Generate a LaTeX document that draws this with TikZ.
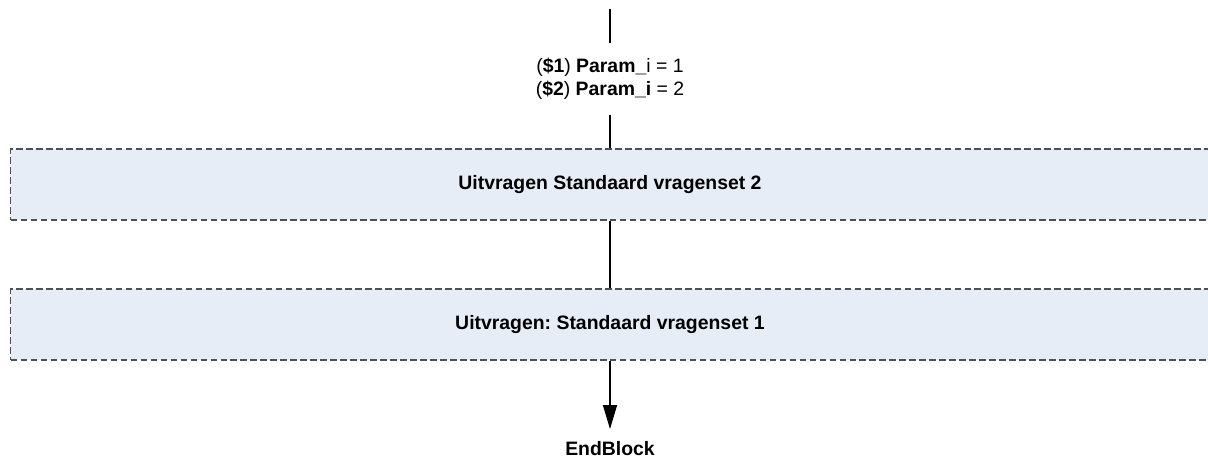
\documentclass[tikz,border=0pt]{standalone}
\usepackage{fontspec}
\setmainfont{Liberation Sans}
\frenchspacing
\usetikzlibrary{
    arrows.meta,
    positioning
}
\definecolor{boxblue}{RGB}{230,237,247}
\definecolor{boxedge}{RGB}{80,80,80}
\tikzstyle{flowline} = [
    draw=black,
    line width=0.8pt
]
\tikzstyle{arrow} = [
    flowline,
    -{Triangle[length=17pt, width=10pt]}
]
\tikzstyle{flowtext} = [
    inner sep=0pt,
    font=\fontsize{13.8}{16.4}\selectfont
]
% wide block, runs off the right edge; text kept at x=610
\tikzstyle{taskbox} = [
    rectangle,
    draw=boxedge,
    fill=boxblue,
    dash pattern=on 4.7pt off 2.4pt,
    line width=0.8pt,
    minimum width=31.45cm,
    minimum height=50.5pt,
    font=\fontsize{13.8}{16.4}\selectfont\bfseries,
    execute at begin node={\hspace*{-1.5cm}}
]

\begin{document}
\begin{tikzpicture}[x=0.025cm, y=-0.025cm]
    \useasboundingbox (0,0) rectangle (1208,462);

    % Incoming line
    \coordinate (start) at (610,9);

    % Parameters
    \node[flowtext, align=center, minimum height=51.2pt] (param) at (610,79)
        {(\textbf{\$1}) \textbf{Param\_}i = 1\\(\textbf{\$2}) \textbf{Param\_i} = 2};

    % Blocks
    \node[taskbox] (set2) at (640,184.5) {Uitvragen Standaard vragenset 2};
    \node[taskbox] (set1) at (640,324.5) {Uitvragen: Standaard vragenset 1};

    % End
    \node[flowtext, font=\fontsize{13.8}{16.4}\selectfont\bfseries,
        inner ysep=8.5pt, anchor=north] (endblock) at (610,429) {EndBlock};

    % Connectors
    \draw[flowline] (start) -- (param);
    \draw[flowline] (param) -- (param |- set2.north);
    \draw[flowline] (param |- set2.south) -- (param |- set1.north);
    \draw[arrow] (param |- set1.south) -- (endblock);
\end{tikzpicture}
\end{document}
